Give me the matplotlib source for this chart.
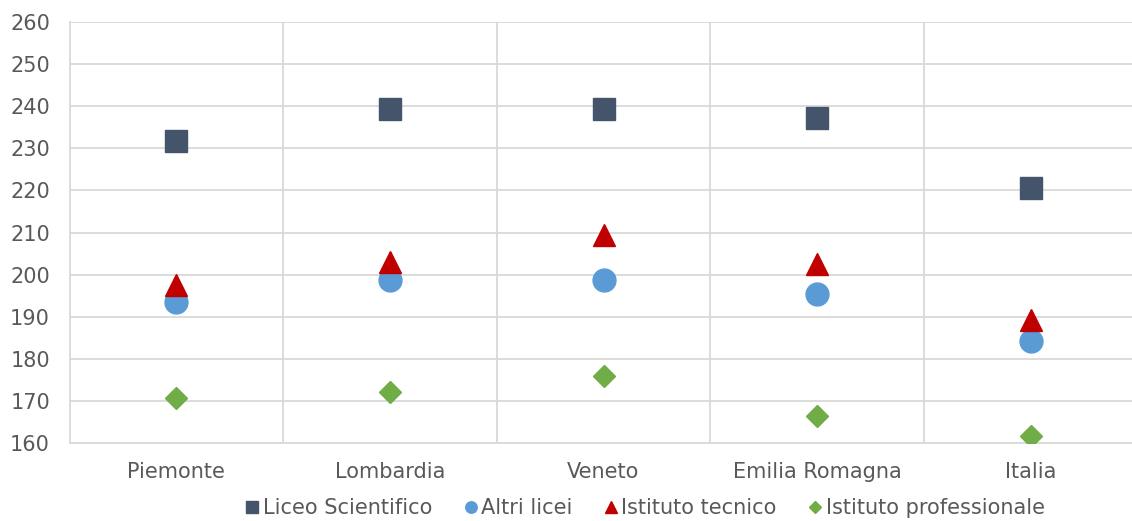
import matplotlib.pyplot as plt
import numpy as np

plt.rcParams['font.family'] = ['DejaVu Sans']

regions = ["Piemonte", "Lombardia", "Veneto", "Emilia Romagna", "Italia"]

liceo_scientifico = [231.7, 239.3, 239.3, 237.1, 220.6]
altri_licei = [193.6, 198.6, 198.6, 195.4, 184.2]
istituto_tecnico = [197.5, 203.0, 209.4, 202.6, 189.3]
istituto_professionale = [170.6, 172.0, 176.0, 166.3, 161.7]

y_ticks = list(range(160, 261, 10))

grid_col = "#D9D9D9"
text_col = "#595959"

fig = plt.figure(figsize=(11.32, 5.21), dpi=100)
# axes runs slightly past the right edge of the figure
ax = fig.add_axes([69.5 / 1132, 78 / 521, 1068 / 1132, 421 / 521])

x = np.arange(len(regions))
ax.plot(x, liceo_scientifico, ls="none", marker="s", ms=16.5, color="#44546A",
        label="Liceo Scientifico", zorder=3)
ax.plot(x, altri_licei, ls="none", marker="o", ms=16.5, color="#5B9BD5",
        label="Altri licei", zorder=3)
ax.plot(x, istituto_tecnico, ls="none", marker="^", ms=16.5, color="#C00000",
        label="Istituto tecnico", zorder=4)
ax.plot(x, istituto_professionale, ls="none", marker="D", ms=11.7, color="#70AD47",
        label="Istituto professionale", zorder=3)

ax.set_xlim(-0.5, len(regions) - 0.5)
ax.set_ylim(160, 260)
ax.set_yticks(y_ticks)
ax.set_xticks(x)
ax.set_xticklabels(regions)
ax.set_xticks(np.arange(0.5, len(regions) - 0.5, 1), minor=True)

ax.grid(axis="y", which="major", color=grid_col, lw=1.3)
ax.grid(axis="x", which="minor", color=grid_col, lw=1.3)
ax.set_axisbelow(True)

for s in ["top", "right"]:
    ax.spines[s].set_visible(False)
for s in ["left", "bottom"]:
    ax.spines[s].set_color(grid_col)
    ax.spines[s].set_linewidth(1.3)

ax.tick_params(axis="both", which="both", length=0, labelsize=15, labelcolor=text_col)
ax.tick_params(axis="y", pad=14)
ax.tick_params(axis="x", pad=14)

handles, labels = ax.get_legend_handles_labels()
leg = fig.legend(handles, labels, loc="center", bbox_to_anchor=(646 / 1132, 13 / 521),
                 ncol=4, frameon=False, fontsize=15, markerscale=0.5,
                 handlelength=0.5, handletextpad=0.25, columnspacing=1.6)
for t in leg.get_texts():
    t.set_color(text_col)

fig.savefig("out.png", dpi=100)
